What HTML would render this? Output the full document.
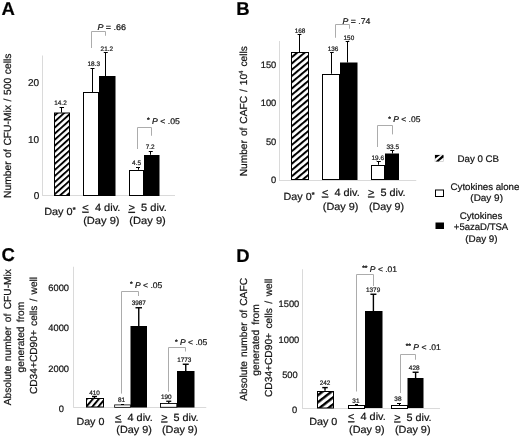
<!DOCTYPE html>
<html lang="en"><head><meta charset="utf-8"><title>Figure</title>
<style>html,body{margin:0;padding:0;background:#fff;}svg{display:block;filter:blur(0.5px);}text{text-rendering:geometricPrecision;stroke:#1a1a1a;stroke-width:0.22px;font-family:'Liberation Sans', Arial, Helvetica, sans-serif;}</style>
</head><body>
<svg width="520" height="437" viewBox="0 0 520 437">
<defs><pattern id="hA" patternUnits="userSpaceOnUse" width="10" height="4.5" patternTransform="rotate(-42)"><rect x="0" y="0" width="10" height="4.5" fill="#fff"/><rect x="0" y="0" width="10" height="1.9" fill="#000"/></pattern><pattern id="hB" patternUnits="userSpaceOnUse" width="10" height="4.8" patternTransform="rotate(-40)"><rect x="0" y="0" width="10" height="4.8" fill="#fff"/><rect x="0" y="0" width="10" height="2.0" fill="#000"/></pattern><pattern id="hC" patternUnits="userSpaceOnUse" width="10" height="4.6" patternTransform="rotate(-50)"><rect x="0" y="0" width="10" height="4.6" fill="#fff"/><rect x="0" y="0" width="10" height="2.0" fill="#000"/></pattern><pattern id="hD" patternUnits="userSpaceOnUse" width="10" height="5.5" patternTransform="rotate(-38)"><rect x="0" y="0" width="10" height="5.5" fill="#fff"/><rect x="0" y="0" width="10" height="2.4" fill="#000"/></pattern></defs>
<rect x="0" y="0" width="520" height="437" fill="#fff"/>
<text x="1.5" y="15" font-size="18.5" text-anchor="start" font-weight="bold" fill="#000">A</text>
<text transform="translate(11.3,198) rotate(-90)" font-size="10.3" fill="#111" style="word-spacing:0.727px">Number of CFU-Mix / 500 cells</text>
<line x1="42.5" y1="55.5" x2="42.5" y2="196" stroke="#dadada" stroke-width="1"/>
<line x1="42.25" y1="195.5" x2="175" y2="195.5" stroke="#dadada" stroke-width="1"/>
<text x="39.2" y="86.3" font-size="10" text-anchor="end" font-weight="normal" fill="#111">20</text>
<text x="39.2" y="143.3" font-size="10" text-anchor="end" font-weight="normal" fill="#111">10</text>
<text x="39.2" y="199.0" font-size="10" text-anchor="end" font-weight="normal" fill="#111">0</text>
<rect x="54.50" y="113.00" width="15.00" height="82.50" fill="url(#hA)" stroke="#000" stroke-width="1"/>
<rect x="83.50" y="92.50" width="15.00" height="103.00" fill="#fff" stroke="#000" stroke-width="1"/>
<rect x="99.50" y="76.50" width="15.50" height="119.00" fill="#000" stroke="#000" stroke-width="1"/>
<rect x="129.50" y="170.50" width="14.00" height="25.00" fill="#fff" stroke="#000" stroke-width="1"/>
<rect x="144.50" y="155.50" width="14.50" height="40.00" fill="#000" stroke="#000" stroke-width="1"/>
<line x1="61.5" y1="107.3" x2="61.5" y2="112.5" stroke="#000" stroke-width="1"/>
<line x1="59.55" y1="107.5" x2="64.05" y2="107.5" stroke="#000" stroke-width="1"/>
<line x1="92.5" y1="68.5" x2="92.5" y2="92" stroke="#000" stroke-width="1"/>
<line x1="90.5" y1="68.5" x2="94.5" y2="68.5" stroke="#000" stroke-width="1"/>
<line x1="105.5" y1="52.5" x2="105.5" y2="76" stroke="#000" stroke-width="1"/>
<line x1="103.75" y1="52.5" x2="107.75" y2="52.5" stroke="#000" stroke-width="1"/>
<line x1="138.5" y1="167.75" x2="138.5" y2="169.75" stroke="#000" stroke-width="1"/>
<line x1="136.0" y1="167.5" x2="140.0" y2="167.5" stroke="#000" stroke-width="1"/>
<line x1="150.5" y1="151.5" x2="150.5" y2="154.75" stroke="#000" stroke-width="1"/>
<line x1="148.75" y1="151.5" x2="152.75" y2="151.5" stroke="#000" stroke-width="1"/>
<text x="60.5" y="104.5" font-size="6.4" text-anchor="middle" font-weight="normal" fill="#2a2a2a" stroke="none">14.2</text>
<text x="93.75" y="66.3" font-size="6.4" text-anchor="middle" font-weight="normal" fill="#2a2a2a" stroke="none">18.3</text>
<text x="106.85" y="50.75" font-size="6.4" text-anchor="middle" font-weight="normal" fill="#2a2a2a" stroke="none">21.2</text>
<text x="136.5" y="165" font-size="6.4" text-anchor="middle" font-weight="normal" fill="#2a2a2a" stroke="none">4.5</text>
<text x="150.2" y="149.25" font-size="6.4" text-anchor="middle" font-weight="normal" fill="#2a2a2a" stroke="none">7.2</text>
<polyline points="91.5,48 91.5,31.5 105.5,31.5 105.5,35.75" fill="none" stroke="#acacac" stroke-width="1"/>
<polyline points="137.5,149 137.5,127.5 151.5,127.5 151.5,135.75" fill="none" stroke="#acacac" stroke-width="1"/>
<text x="97.4" y="29.75" font-size="8.2" text-anchor="start" font-weight="normal" fill="#111" textLength="28.6" lengthAdjust="spacingAndGlyphs"><tspan font-style="italic">P</tspan> = .66</text>
<text x="146.95" y="123.5" font-size="8.2" text-anchor="start" font-weight="normal" fill="#111" textLength="32.85" lengthAdjust="spacingAndGlyphs"><tspan font-size="6.5" dy="-1.2" font-weight="bold">*</tspan><tspan dy="1.2">&#160;</tspan><tspan font-style="italic">P</tspan> &lt; .05</text>
<text x="44.15" y="215.2" font-size="10.4" text-anchor="start" font-weight="normal" fill="#111" textLength="31.45" lengthAdjust="spacingAndGlyphs">Day 0<tspan font-size="7" dy="-3.6" font-weight="bold">*</tspan></text>
<text x="82.3" y="210.75" font-size="10.4" text-anchor="start" font-weight="normal" fill="#111" textLength="38.15" lengthAdjust="spacingAndGlyphs"><tspan text-decoration="underline">&lt;</tspan>&#160;&#160;4 div.</text>
<text x="83.15" y="224.2" font-size="10.4" text-anchor="start" font-weight="normal" fill="#111" textLength="36.4" lengthAdjust="spacingAndGlyphs">(Day 9)</text>
<text x="128.5" y="210.9" font-size="10.4" text-anchor="start" font-weight="normal" fill="#111" textLength="38.25" lengthAdjust="spacingAndGlyphs"><tspan text-decoration="underline">&gt;</tspan>&#160;&#160;5 div.</text>
<text x="129.35" y="224.4" font-size="10.4" text-anchor="start" font-weight="normal" fill="#111" textLength="36.5" lengthAdjust="spacingAndGlyphs">(Day 9)</text>
<text x="236.25" y="15" font-size="18.5" text-anchor="start" font-weight="bold" fill="#000">B</text>
<text transform="translate(246.6,176.3) rotate(-90)" font-size="10.2" fill="#111" style="word-spacing:1.117px">Number of CAFC / 10<tspan font-size="6" dy="-3.5">4</tspan><tspan dy="3.5"> cells</tspan></text>
<line x1="279.5" y1="41" x2="279.5" y2="180.25" stroke="#dadada" stroke-width="1"/>
<line x1="279" y1="180.5" x2="416.25" y2="180.5" stroke="#dadada" stroke-width="1"/>
<text x="276.25" y="67.8" font-size="9.3" text-anchor="end" font-weight="normal" fill="#111">150</text>
<text x="276.25" y="106.10000000000001" font-size="9.3" text-anchor="end" font-weight="normal" fill="#111">100</text>
<text x="276.25" y="144.7" font-size="9.3" text-anchor="end" font-weight="normal" fill="#111">50</text>
<text x="276.25" y="183.2" font-size="9.3" text-anchor="end" font-weight="normal" fill="#111">0</text>
<rect x="291.50" y="52.50" width="17.00" height="127.00" fill="url(#hB)" stroke="#000" stroke-width="1"/>
<rect x="322.50" y="74.50" width="17.00" height="105.00" fill="#fff" stroke="#000" stroke-width="1"/>
<rect x="340.50" y="63.00" width="16.50" height="116.50" fill="#000" stroke="#000" stroke-width="1"/>
<rect x="371.50" y="165.50" width="13.00" height="14.00" fill="#fff" stroke="#000" stroke-width="1"/>
<rect x="385.50" y="154.00" width="13.00" height="25.50" fill="#000" stroke="#000" stroke-width="1"/>
<line x1="299.5" y1="34.25" x2="299.5" y2="52" stroke="#000" stroke-width="1"/>
<line x1="297.6" y1="34.5" x2="301.4" y2="34.5" stroke="#000" stroke-width="1"/>
<line x1="331.5" y1="52.75" x2="331.5" y2="73.75" stroke="#000" stroke-width="1"/>
<line x1="330.09999999999997" y1="52.5" x2="333.7" y2="52.5" stroke="#000" stroke-width="1"/>
<line x1="347.5" y1="41.25" x2="347.5" y2="62.5" stroke="#000" stroke-width="1"/>
<line x1="345.7" y1="41.5" x2="349.3" y2="41.5" stroke="#000" stroke-width="1"/>
<line x1="378.5" y1="161" x2="378.5" y2="164.75" stroke="#000" stroke-width="1"/>
<line x1="376.75" y1="161.5" x2="380.75" y2="161.5" stroke="#000" stroke-width="1"/>
<line x1="392.5" y1="150.6" x2="392.5" y2="153.5" stroke="#000" stroke-width="1"/>
<line x1="390.25" y1="150.5" x2="394.25" y2="150.5" stroke="#000" stroke-width="1"/>
<text x="300" y="32.9" font-size="6.4" text-anchor="middle" font-weight="normal" fill="#2a2a2a" stroke="none">168</text>
<text x="333.1" y="51.1" font-size="6.4" text-anchor="middle" font-weight="normal" fill="#2a2a2a" stroke="none">136</text>
<text x="348.9" y="40" font-size="6.4" text-anchor="middle" font-weight="normal" fill="#2a2a2a" stroke="none">150</text>
<text x="377.8" y="159.75" font-size="6.4" text-anchor="middle" font-weight="normal" fill="#2a2a2a" stroke="none">19.6</text>
<text x="392.8" y="149.4" font-size="6.4" text-anchor="middle" font-weight="normal" fill="#2a2a2a" stroke="none">33.5</text>
<polyline points="335.5,37.75 335.5,24.5 349.5,24.5 349.5,28.75" fill="none" stroke="#acacac" stroke-width="1"/>
<polyline points="377.5,147 377.5,125.5 392.5,125.5 392.5,134.4" fill="none" stroke="#acacac" stroke-width="1"/>
<text x="342.6" y="23.5" font-size="8.2" text-anchor="start" font-weight="normal" fill="#111" textLength="27.8" lengthAdjust="spacingAndGlyphs"><tspan font-style="italic">P</tspan> = .74</text>
<text x="388.2" y="121.9" font-size="8.2" text-anchor="start" font-weight="normal" fill="#111" textLength="32.2" lengthAdjust="spacingAndGlyphs"><tspan font-size="6.5" dy="-1.2" font-weight="bold">*</tspan><tspan dy="1.2">&#160;</tspan><tspan font-style="italic">P</tspan> &lt; .05</text>
<text x="283.55" y="200.25" font-size="10.4" text-anchor="start" font-weight="normal" fill="#111" textLength="30.95" lengthAdjust="spacingAndGlyphs">Day 0<tspan font-size="7" dy="-3.6" font-weight="bold">*</tspan></text>
<text x="321.9" y="195.6" font-size="10.4" text-anchor="start" font-weight="normal" fill="#111" textLength="37.85" lengthAdjust="spacingAndGlyphs"><tspan text-decoration="underline">&lt;</tspan>&#160;&#160;4 div.</text>
<text x="322.85" y="209.5" font-size="10.4" text-anchor="start" font-weight="normal" fill="#111" textLength="35.6" lengthAdjust="spacingAndGlyphs">(Day 9)</text>
<text x="368.0" y="195.5" font-size="10.4" text-anchor="start" font-weight="normal" fill="#111" textLength="37.55" lengthAdjust="spacingAndGlyphs"><tspan text-decoration="underline">&gt;</tspan>&#160;&#160;5 div.</text>
<text x="368.95" y="209.5" font-size="10.4" text-anchor="start" font-weight="normal" fill="#111" textLength="35.2" lengthAdjust="spacingAndGlyphs">(Day 9)</text>
<g><rect x="435" y="155" width="8.5" height="6.5" fill="#fff" stroke="#bdbdbd" stroke-width="0.6"/><polygon points="435,155 440.2,155 435,158.8" fill="#000"/><polygon points="435.6,161.5 438.6,161.5 443.5,157.6 443.5,155.2 442.6,155" fill="#000"/></g>
<text x="457.5" y="162" font-size="9.6" text-anchor="start" font-weight="normal" fill="#111" textLength="41.6" lengthAdjust="spacingAndGlyphs">Day 0 CB</text>
<rect x="435.50" y="190.00" width="8.00" height="6.50" fill="#fff" stroke="#000" stroke-width="1"/>
<text x="450.6" y="189.85" font-size="9.6" text-anchor="start" font-weight="normal" fill="#111" textLength="68.7" lengthAdjust="spacingAndGlyphs">Cytokines alone</text>
<text x="470.35" y="201.3" font-size="9.6" text-anchor="start" font-weight="normal" fill="#111" textLength="32.6" lengthAdjust="spacingAndGlyphs">(Day 9)</text>
<rect x="436.00" y="223.00" width="7.50" height="5.50" fill="#000" stroke="#000" stroke-width="1"/>
<text x="459.7" y="218.6" font-size="9.6" text-anchor="start" font-weight="normal" fill="#111" textLength="42.65" lengthAdjust="spacingAndGlyphs">Cytokines</text>
<text x="453.85" y="230.1" font-size="9.6" text-anchor="start" font-weight="normal" fill="#111" textLength="54.4" lengthAdjust="spacingAndGlyphs">+5azaD/TSA</text>
<text x="465.25" y="241.9" font-size="9.6" text-anchor="start" font-weight="normal" fill="#111" textLength="32.4" lengthAdjust="spacingAndGlyphs">(Day 9)</text>
<text x="1.5" y="261" font-size="18.5" text-anchor="start" font-weight="bold" fill="#000">C</text>
<text transform="translate(11.45,405.2) rotate(-90)" font-size="10.2" fill="#111" style="word-spacing:1.580px">Absolute number of CFU-Mix</text>
<text transform="translate(23.6,372.4) rotate(-90)" font-size="10.2" fill="#111" style="word-spacing:1.556px">generated from</text>
<text transform="translate(36.5,394.1) rotate(-90)" font-size="10.2" fill="#111" style="word-spacing:1.317px">CD34+CD90+ cells / well</text>
<line x1="73.5" y1="266.75" x2="73.5" y2="407.5" stroke="#dadada" stroke-width="1"/>
<line x1="73.25" y1="407.5" x2="206.25" y2="407.5" stroke="#dadada" stroke-width="1"/>
<text x="69" y="290.59999999999997" font-size="9.3" text-anchor="end" font-weight="normal" fill="#111">6000</text>
<text x="69" y="331.09999999999997" font-size="9.3" text-anchor="end" font-weight="normal" fill="#111">4000</text>
<text x="69" y="371.59999999999997" font-size="9.3" text-anchor="end" font-weight="normal" fill="#111">2000</text>
<text x="64" y="412.2" font-size="9.3" text-anchor="end" font-weight="normal" fill="#111">0</text>
<rect x="86.50" y="398.50" width="17.00" height="8.50" fill="url(#hC)" stroke="#000" stroke-width="1"/>
<rect x="114.65" y="404.90" width="15.70" height="2.45" fill="#fff" stroke="#000" stroke-width="0.8"/>
<rect x="131.00" y="326.50" width="15.50" height="80.50" fill="#000" stroke="#000" stroke-width="1"/>
<rect x="160.45" y="403.45" width="16.35" height="3.85" fill="#fff" stroke="#000" stroke-width="0.9"/>
<rect x="177.50" y="371.50" width="16.50" height="35.50" fill="#000" stroke="#000" stroke-width="1"/>
<line x1="94.5" y1="396.5" x2="94.5" y2="398.25" stroke="#000" stroke-width="1.4"/>
<line x1="92.0" y1="396.5" x2="97.0" y2="396.5" stroke="#000" stroke-width="1.4"/>
<line x1="122.5" y1="404.25" x2="122.5" y2="405" stroke="#000" stroke-width="1"/>
<line x1="121.0" y1="404.5" x2="124.0" y2="404.5" stroke="#000" stroke-width="1"/>
<line x1="138.75" y1="307.75" x2="138.75" y2="326.25" stroke="#000" stroke-width="1.4"/>
<line x1="135.5" y1="307.75" x2="142.0" y2="307.75" stroke="#000" stroke-width="1.4"/>
<line x1="168.75" y1="401.25" x2="168.75" y2="403.25" stroke="#000" stroke-width="1.3"/>
<line x1="166.25" y1="401.25" x2="171.25" y2="401.25" stroke="#000" stroke-width="1.3"/>
<line x1="185.75" y1="364.25" x2="185.75" y2="371.25" stroke="#000" stroke-width="1.4"/>
<line x1="182.75" y1="364.25" x2="188.75" y2="364.25" stroke="#000" stroke-width="1.4"/>
<text x="94.6" y="395" font-size="6.4" text-anchor="middle" font-weight="normal" fill="#2a2a2a" stroke="none">410</text>
<text x="121.5" y="402.3" font-size="6.4" text-anchor="middle" font-weight="normal" fill="#2a2a2a" stroke="none">81</text>
<text x="138.75" y="305" font-size="6.4" text-anchor="middle" font-weight="normal" fill="#2a2a2a" stroke="none">3987</text>
<text x="166.25" y="399" font-size="6.4" text-anchor="middle" font-weight="normal" fill="#2a2a2a" stroke="none">190</text>
<text x="184.25" y="362" font-size="6.4" text-anchor="middle" font-weight="normal" fill="#2a2a2a" stroke="none">1773</text>
<polyline points="121.5,393.6 121.5,291.5 138.5,291.5 138.5,296" fill="none" stroke="#acacac" stroke-width="1"/>
<polyline points="168.5,391.7 168.5,347.5 185.5,347.5 185.5,351.5" fill="none" stroke="#acacac" stroke-width="1"/>
<text x="129.95" y="287.5" font-size="8.2" text-anchor="start" font-weight="normal" fill="#111" textLength="32.35" lengthAdjust="spacingAndGlyphs"><tspan font-size="6.5" dy="-1.2" font-weight="bold">*</tspan><tspan dy="1.2">&#160;</tspan><tspan font-style="italic">P</tspan> &lt; .05</text>
<text x="174.95" y="344.75" font-size="8.2" text-anchor="start" font-weight="normal" fill="#111" textLength="32.35" lengthAdjust="spacingAndGlyphs"><tspan font-size="6.5" dy="-1.2" font-weight="bold">*</tspan><tspan dy="1.2">&#160;</tspan><tspan font-style="italic">P</tspan> &lt; .05</text>
<text x="76.4" y="424.5" font-size="10.4" text-anchor="start" font-weight="normal" fill="#111" textLength="28.0" lengthAdjust="spacingAndGlyphs">Day 0</text>
<text x="115.1" y="420.5" font-size="10.4" text-anchor="start" font-weight="normal" fill="#111" textLength="37.65" lengthAdjust="spacingAndGlyphs"><tspan text-decoration="underline">&lt;</tspan>&#160;&#160;4 div.</text>
<text x="116.35" y="433.2" font-size="10.4" text-anchor="start" font-weight="normal" fill="#111" textLength="35.5" lengthAdjust="spacingAndGlyphs">(Day 9)</text>
<text x="161.2" y="420.5" font-size="10.4" text-anchor="start" font-weight="normal" fill="#111" textLength="37.35" lengthAdjust="spacingAndGlyphs"><tspan text-decoration="underline">&gt;</tspan>&#160;&#160;5 div.</text>
<text x="161.95" y="433.2" font-size="10.4" text-anchor="start" font-weight="normal" fill="#111" textLength="35.6" lengthAdjust="spacingAndGlyphs">(Day 9)</text>
<text x="236.25" y="261.75" font-size="18.5" text-anchor="start" font-weight="bold" fill="#000">D</text>
<text transform="translate(247,400.75) rotate(-90)" font-size="10.2" fill="#111" style="word-spacing:1.276px">Absolute number of CAFC</text>
<text transform="translate(259.1,375.7) rotate(-90)" font-size="10.2" fill="#111" style="word-spacing:2.356px">generated from</text>
<text transform="translate(272,397) rotate(-90)" font-size="10.2" fill="#111" style="word-spacing:1.667px">CD34+CD90+ cells / well</text>
<line x1="302.5" y1="269.25" x2="302.5" y2="408.5" stroke="#dadada" stroke-width="1"/>
<line x1="302.1" y1="408.5" x2="440" y2="408.5" stroke="#dadada" stroke-width="1"/>
<text x="299.25" y="306.8" font-size="9.3" text-anchor="end" font-weight="normal" fill="#111">1500</text>
<text x="299.25" y="342.7" font-size="9.3" text-anchor="end" font-weight="normal" fill="#111">1000</text>
<text x="297.7" y="377.7" font-size="9.3" text-anchor="end" font-weight="normal" fill="#111">500</text>
<text x="297.2" y="412.8" font-size="9.3" text-anchor="end" font-weight="normal" fill="#111">0</text>
<rect x="317.50" y="391.50" width="16.00" height="16.50" fill="url(#hD)" stroke="#000" stroke-width="1"/>
<rect x="348.50" y="405.50" width="16.00" height="3.00" fill="#fff" stroke="#000" stroke-width="1"/>
<rect x="365.50" y="311.50" width="16.50" height="96.00" fill="#000" stroke="#000" stroke-width="1"/>
<rect x="391.50" y="405.50" width="16.00" height="3.00" fill="#fff" stroke="#000" stroke-width="1"/>
<rect x="408.00" y="378.50" width="15.00" height="29.00" fill="#000" stroke="#000" stroke-width="1"/>
<line x1="325" y1="387.6" x2="325" y2="390.75" stroke="#000" stroke-width="1.4"/>
<line x1="322.25" y1="387.6" x2="327.75" y2="387.6" stroke="#000" stroke-width="1.4"/>
<line x1="356.5" y1="404" x2="356.5" y2="405" stroke="#000" stroke-width="1"/>
<line x1="355.0" y1="404.5" x2="358.0" y2="404.5" stroke="#000" stroke-width="1"/>
<line x1="373.4" y1="294.25" x2="373.4" y2="311" stroke="#000" stroke-width="1.4"/>
<line x1="370.4" y1="294.25" x2="376.4" y2="294.25" stroke="#000" stroke-width="1.4"/>
<line x1="399.5" y1="403.5" x2="399.5" y2="405" stroke="#000" stroke-width="1"/>
<line x1="397.0" y1="403.5" x2="401.0" y2="403.5" stroke="#000" stroke-width="1"/>
<line x1="415.6" y1="372.25" x2="415.6" y2="378" stroke="#000" stroke-width="1.4"/>
<line x1="412.6" y1="372.25" x2="418.6" y2="372.25" stroke="#000" stroke-width="1.4"/>
<text x="325" y="385" font-size="6.4" text-anchor="middle" font-weight="normal" fill="#2a2a2a" stroke="none">242</text>
<text x="355.9" y="403" font-size="6.4" text-anchor="middle" font-weight="normal" fill="#2a2a2a" stroke="none">31</text>
<text x="373.1" y="291.9" font-size="6.4" text-anchor="middle" font-weight="normal" fill="#2a2a2a" stroke="none">1379</text>
<text x="397.9" y="400.75" font-size="6.4" text-anchor="middle" font-weight="normal" fill="#2a2a2a" stroke="none">38</text>
<text x="414.2" y="369.5" font-size="6.4" text-anchor="middle" font-weight="normal" fill="#2a2a2a" stroke="none">428</text>
<polyline points="356.5,391.5 356.5,274.5 373.5,274.5 373.5,286" fill="none" stroke="#acacac" stroke-width="1"/>
<polyline points="400.5,393 400.5,354.5 415.5,354.5 415.5,359.75" fill="none" stroke="#acacac" stroke-width="1"/>
<text x="362.2" y="271.5" font-size="8.2" text-anchor="start" font-weight="normal" fill="#111" textLength="34.85" lengthAdjust="spacingAndGlyphs"><tspan font-size="6.5" dy="-1.2" font-weight="bold">**</tspan><tspan dy="1.2">&#160;</tspan><tspan font-style="italic">P</tspan> &lt; .01</text>
<text x="405.7" y="349.5" font-size="8.2" text-anchor="start" font-weight="normal" fill="#111" textLength="35.1" lengthAdjust="spacingAndGlyphs"><tspan font-size="6.5" dy="-1.2" font-weight="bold">**</tspan><tspan dy="1.2">&#160;</tspan><tspan font-style="italic">P</tspan> &lt; .01</text>
<text x="309.15" y="424.75" font-size="10.4" text-anchor="start" font-weight="normal" fill="#111" textLength="28.25" lengthAdjust="spacingAndGlyphs">Day 0</text>
<text x="348.1" y="420.3" font-size="10.4" text-anchor="start" font-weight="normal" fill="#111" textLength="37.65" lengthAdjust="spacingAndGlyphs"><tspan text-decoration="underline">&lt;</tspan>&#160;&#160;4 div.</text>
<text x="349.1" y="433.2" font-size="10.4" text-anchor="start" font-weight="normal" fill="#111" textLength="35.45" lengthAdjust="spacingAndGlyphs">(Day 9)</text>
<text x="394.2" y="420.5" font-size="10.4" text-anchor="start" font-weight="normal" fill="#111" textLength="37.35" lengthAdjust="spacingAndGlyphs"><tspan text-decoration="underline">&gt;</tspan>&#160;&#160;5 div.</text>
<text x="394.95" y="433.2" font-size="10.4" text-anchor="start" font-weight="normal" fill="#111" textLength="35.6" lengthAdjust="spacingAndGlyphs">(Day 9)</text>
</svg>
</body></html>
